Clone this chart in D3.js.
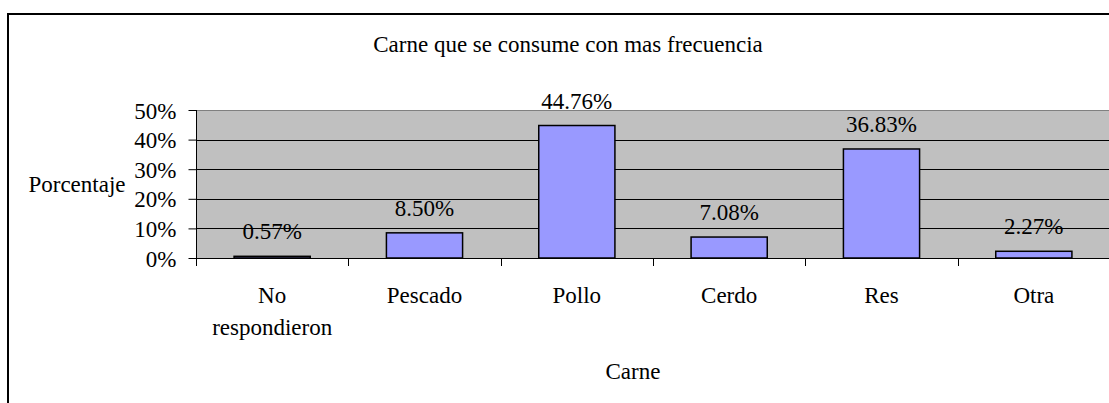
<!DOCTYPE html>
<html>
<head>
<meta charset="utf-8">
<script src="https://cdn.jsdelivr.net/npm/d3@7"></script>
<style>
  body { margin: 0; background: #fff; }
  svg text { font-family: "Liberation Serif", "Times New Roman", serif; fill: #000; }
</style>
</head>
<body>
<svg id="chart"></svg>
<script>
// data
var categories = [["No", "respondieron"], ["Pescado"], ["Pollo"], ["Cerdo"], ["Res"], ["Otra"]];
var values = [0.57, 8.50, 44.76, 7.08, 36.83, 2.27];
var yTicks = [0, 10, 20, 30, 40, 50];

var W = 1109, H = 403;
var FONT = "Liberation Serif, Times New Roman, serif";
var FS = "23px";
var svg = d3.select("#chart").attr("width", W).attr("height", H);

// outer chart frame
svg.append("rect")
  .attr("x", 8).attr("y", 14)
  .attr("width", 1110).attr("height", 400)
  .attr("fill", "none").attr("stroke", "#000").attr("stroke-width", 2);

var plot = {left: 196, right: 1110, top: 110, bottom: 258};

var x = d3.scaleBand()
  .domain(d3.range(categories.length))
  .range([plot.left, plot.right])
  .paddingInner(0.5).paddingOuter(0.25);

var y = d3.scaleLinear().domain([0, 50]).range([plot.bottom, plot.top]);

// plot background
svg.append("rect")
  .attr("x", plot.left).attr("y", plot.top)
  .attr("width", plot.right - plot.left).attr("height", plot.bottom - plot.top)
  .attr("fill", "#c0c0c0");
svg.append("line")
  .attr("x1", plot.left).attr("x2", plot.right)
  .attr("y1", plot.top + 0.5).attr("y2", plot.top + 0.5)
  .attr("stroke", "#808080").attr("stroke-width", 1);

// gridlines
svg.selectAll("line.grid")
  .data(yTicks.filter(function(t){ return t > 0 && t < 50; }))
  .enter().append("line")
  .attr("class", "grid")
  .attr("x1", plot.left).attr("x2", plot.right)
  .attr("y1", function(d){ return Math.round(y(d)) + 0.5; })
  .attr("y2", function(d){ return Math.round(y(d)) + 0.5; })
  .attr("stroke", "#000").attr("stroke-width", 1);

// bars
svg.selectAll("rect.bar")
  .data(values)
  .enter().append("rect")
  .attr("class", "bar")
  .attr("x", function(d, i){ return x(i); })
  .attr("y", function(d){ return y(d); })
  .attr("width", x.bandwidth())
  .attr("height", function(d){ return y(0) - y(d); })
  .attr("fill", "#9999ff")
  .attr("stroke", "#000").attr("stroke-width", 1.5);

// y axis
var yAxis = d3.axisLeft(y)
  .tickValues(yTicks)
  .tickSize(8)
  .tickPadding(12)
  .tickFormat(function(d){ return d + "%"; });
var gy = svg.append("g")
  .attr("transform", "translate(" + (plot.left + 0.5) + ",0)")
  .call(yAxis)
  .attr("font-family", FONT)
  .attr("font-size", FS);
gy.select(".domain").attr("stroke", "#000").attr("d", "M0," + plot.top + "V" + plot.bottom);
gy.selectAll(".tick line").attr("stroke", "#000");
gy.selectAll(".tick text").attr("dy", "0.35em");

// x axis line and ticks at band edges
var xAxisY = plot.bottom;
svg.append("line")
  .attr("x1", plot.left).attr("x2", plot.right)
  .attr("y1", xAxisY + 0.5).attr("y2", xAxisY + 0.5)
  .attr("stroke", "#000");
var edges = d3.range(categories.length).map(function(i){ return x(i) - x.step() * 0.25; });
svg.selectAll("line.xtick")
  .data(edges)
  .enter().append("line")
  .attr("class", "xtick")
  .attr("x1", function(d){ return Math.round(d) + 0.5; })
  .attr("x2", function(d){ return Math.round(d) + 0.5; })
  .attr("y1", xAxisY).attr("y2", xAxisY + 8)
  .attr("stroke", "#000");

// category labels
var catG = svg.selectAll("text.cat")
  .data(categories)
  .enter().append("text")
  .attr("class", "cat")
  .attr("text-anchor", "middle")
  .attr("font-size", FS)
  .attr("x", function(d, i){ return x(i) + x.bandwidth() / 2; })
  .attr("y", 303);
catG.selectAll("tspan")
  .data(function(d){ return d; })
  .enter().append("tspan")
  .attr("x", function(){ return d3.select(this.parentNode).attr("x"); })
  .attr("dy", function(d, j){ return j === 0 ? 0 : 32; })
  .text(function(d){ return d; });

// value labels
svg.selectAll("text.val")
  .data(values)
  .enter().append("text")
  .attr("class", "val")
  .attr("text-anchor", "middle")
  .attr("font-size", FS)
  .attr("x", function(d, i){ return x(i) + x.bandwidth() / 2; })
  .attr("y", function(d){ return y(d) - 17; })
  .text(function(d){ return d.toFixed(2) + "%"; });

// titles
svg.append("text")
  .attr("x", 568).attr("y", 52)
  .attr("text-anchor", "middle")
  .attr("font-size", FS)
  .text("Carne que se consume con mas frecuencia");

svg.append("text")
  .attr("x", 77).attr("y", 192)
  .attr("text-anchor", "middle")
  .attr("font-size", FS)
  .text("Porcentaje");

svg.append("text")
  .attr("x", 633).attr("y", 379)
  .attr("text-anchor", "middle")
  .attr("font-size", FS)
  .text("Carne");
</script>
</body>
</html>
